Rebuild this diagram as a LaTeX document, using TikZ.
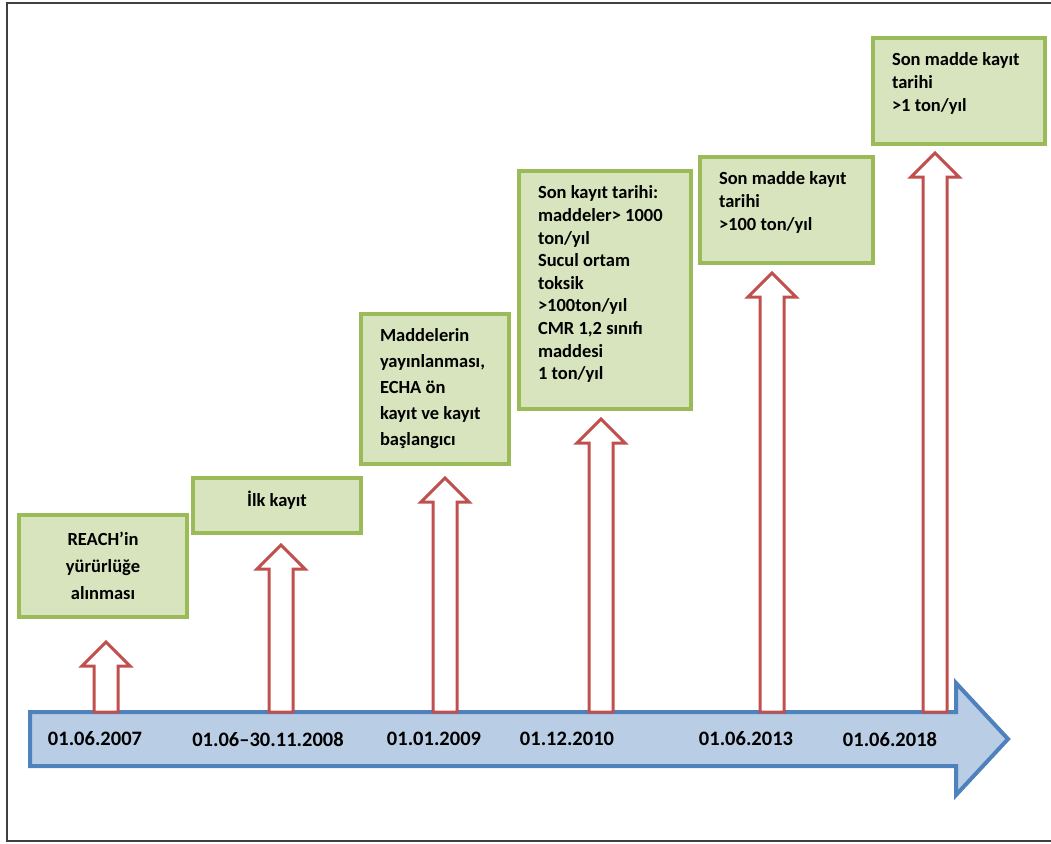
\documentclass[tikz,border=0pt]{standalone}
\usepackage{fontspec}
\setmainfont{Carlito}
\usepackage{tikz}
\usetikzlibrary{calc}
\definecolor{reachgreen}{HTML}{9BBB59}
\definecolor{reachgreenfill}{HTML}{D7E4BD}
\definecolor{reachred}{HTML}{C0504D}
\definecolor{reachblue}{HTML}{4F81BD}
\definecolor{reachbluefill}{HTML}{B9CDE5}

% hollow up arrow: x of the shaft, y of the tip
\newcommand{\riser}[2]{%
  \draw[riser] (#1-12,712) -- (#1-12,#2+24) -- (#1-24,#2+24) -- (#1,#2)
    -- (#1+24,#2+24) -- (#1+12,#2+24) -- (#1+12,712) -- cycle;}

\begin{document}
\begin{tikzpicture}[
  x=1pt, y=-1pt,
  note/.style={draw=reachgreen, fill=reachgreenfill, line width=4pt, inner xsep=19pt, inner ysep=15pt, font=\fontsize{18.5}{22.6}\selectfont\bfseries},
  riser/.style={draw=reachred, fill=white, line width=3pt, line join=miter},
  timeline/.style={draw=reachblue, fill=reachbluefill, line width=4pt},
  date/.style={font=\fontsize{20.5}{24}\selectfont\bfseries}
]
\useasboundingbox (0,0) rectangle (1051,843);

% Frame
\draw[line width=2.5pt, black!75] (7,3) rectangle (1062,841);

% Timeline
\draw[timeline] (30,712) -- (956,712) -- (956,683) -- (1008,739) -- (956,795) -- (956,766) -- (30,766) -- cycle;

\node[date] (d2007) at (95,739) {01.06.2007};
\node[date] (d2008) at (268,739) {01.06–30.11.2008};
\node[date] (d2009) at (434,739) {01.01.2009};
\node[date] (d2010) at (567,739) {01.12.2010};
\node[date] (d2013) at (746,739) {01.06.2013};
\node[date] (d2018) at (890,739) {01.06.2018};

% Arrows
\riser{106}{642}
\riser{281}{545}
\riser{445}{478}
\riser{601}{419}
\riser{772}{273}
\riser{935}{153}

% Boxes
\node[note, minimum width=168pt, minimum height=102pt, align=center, font=\fontsize{18.5}{27}\selectfont\bfseries] (yururluk) at (103,566) {REACH’in\\yürürlüğe\\alınması};
\node[note, minimum width=168pt, minimum height=55pt, inner ysep=4pt, text height=12pt, text depth=9pt] (ilkkayit) at (277,505) {İlk kayıt};
\node[note, minimum width=148pt, minimum height=148pt, text width=110pt, align=flush left, font=\fontsize{18.5}{26}\selectfont\bfseries] (onkayit) at (435,389) {Maddelerin\\yayınlanması,\\ECHA ön\\kayıt ve kayıt\\başlangıcı};
\node[note, anchor=north west] (son1000) at (517,169) {\parbox[t][208pt][t]{134pt}{\raggedright Son kayıt tarihi:\\maddeler> 1000\\ton/yıl\\Sucul ortam\\toksik\\>100ton/yıl\\CMR 1,2 sınıfı\\maddesi\\1 ton/yıl}};
\node[note, anchor=north west] (son100) at (698,155) {\parbox[t][76pt][t]{135pt}{\raggedright Son madde kayıt\\tarihi\\>100 ton/yıl}};
\node[note, anchor=north west] (son1) at (871,36) {\parbox[t][76pt][t]{134pt}{\raggedright Son madde kayıt\\tarihi\\>1 ton/yıl}};

\end{tikzpicture}
\end{document}
